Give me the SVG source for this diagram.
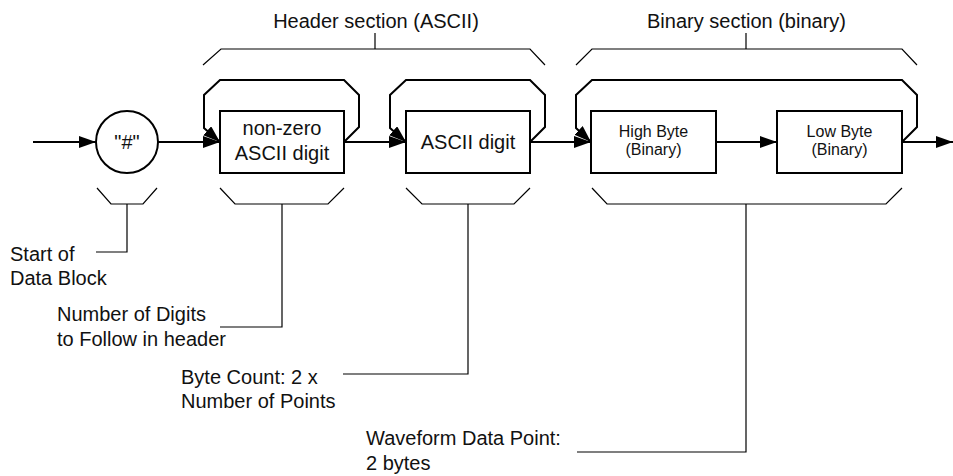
<svg xmlns="http://www.w3.org/2000/svg" width="953" height="476" viewBox="0 0 953 476">
<style>
text{font-family:"Liberation Sans",Arial,sans-serif;fill:#111}
.t20{font-size:20px}
.t16{font-size:16px}
.mid{text-anchor:middle}
.box{fill:#fff;stroke:#000;stroke-width:2}
.flow{fill:none;stroke:#000;stroke-width:2}
.br{fill:none;stroke:#000;stroke-width:1.2}
</style>
<defs>
<marker id="ah" markerWidth="17" markerHeight="12" refX="17" refY="6" orient="auto" markerUnits="userSpaceOnUse">
<path d="M0,0 L17,6 L0,12 z" fill="#000"/>
</marker>
</defs>
<rect width="953" height="476" fill="#fff"/>
<g id="connectors">
<path class="flow" d="M33,142 H96" marker-end="url(#ah)"/>
<path class="flow" d="M158,142 H220" marker-end="url(#ah)"/>
<path class="flow" d="M344,142 H406" marker-end="url(#ah)"/>
<path class="flow" d="M530,142 H591" marker-end="url(#ah)"/>
<path class="flow" d="M716,142 H777" marker-end="url(#ah)"/>
<path class="flow" d="M902,142 H953" marker-end="url(#ah)"/>
<path class="flow" d="M344,142 L359,127 V95 L344,80 H220 L204,95 V128 L220,142" marker-end="url(#ah)"/>
<path class="flow" d="M530,142 L545,127 V95 L530,80 H406 L390,95 V128 L406,142" marker-end="url(#ah)"/>
<path class="flow" d="M902,142 L917,127 V95 L902,80 H592 L576,95 V128 L591,142" marker-end="url(#ah)"/>
</g>
<g id="node-hash">
<circle cx="127" cy="142" r="31" class="box"/>
<text x="127" y="149" class="t20 mid">"#"</text>
</g>
<g id="node-nonzero">
<rect x="220" y="111" width="124" height="62" class="box"/>
<text x="282" y="135" class="t20 mid">non-zero</text>
<text x="282" y="160" class="t20 mid">ASCII digit</text>
</g>
<g id="node-asciidigit">
<rect x="406" y="111" width="124" height="62" class="box"/>
<text x="468" y="149" class="t20 mid">ASCII digit</text>
</g>
<g id="node-highbyte">
<rect x="591" y="111" width="125" height="62" class="box"/>
<text x="653.5" y="137" class="t16 mid">High Byte</text>
<text x="653.5" y="155" class="t16 mid">(Binary)</text>
</g>
<g id="node-lowbyte">
<rect x="777" y="111" width="125" height="62" class="box"/>
<text x="839.5" y="137" class="t16 mid">Low Byte</text>
<text x="839.5" y="155" class="t16 mid">(Binary)</text>
</g>
<g id="bracket-header">
<path class="br" d="M203,65 L221,49 H530 L545,65 M375,33 V49"/>
<text x="376" y="28" class="t20 mid">Header section (ASCII)</text>
</g>
<g id="bracket-binary">
<path class="br" d="M576,65 L592,49 H902 L917,65 M746,33 V49"/>
<text x="746.5" y="28" class="t20 mid">Binary section (binary)</text>
</g>
<g id="label-start">
<path class="br" d="M97,188 L111,204 H143 L157,188 M127,204 V252 H96"/>
<text class="t20"><tspan x="10" y="261">Start of</tspan><tspan x="10" y="285">Data Block</tspan></text>
</g>
<g id="label-digits">
<path class="br" d="M220,188 L235,204 H328 L344,188 M282,204 V327 H220"/>
<text class="t20"><tspan x="57" y="321">Number of Digits</tspan><tspan x="57" y="346">to Follow in header</tspan></text>
</g>
<g id="label-bytecount">
<path class="br" d="M406,188 L422,204 H514 L530,188 M468,204 V374 H343"/>
<text class="t20"><tspan x="181" y="384">Byte Count: 2 x</tspan><tspan x="181" y="408">Number of Points</tspan></text>
</g>
<g id="label-waveform">
<path class="br" d="M592,188 L607,204 H886 L902,188 M746,204 V452 H577"/>
<text class="t20"><tspan x="366" y="445">Waveform Data Point:</tspan><tspan x="366" y="470">2 bytes</tspan></text>
</g>
</svg>
